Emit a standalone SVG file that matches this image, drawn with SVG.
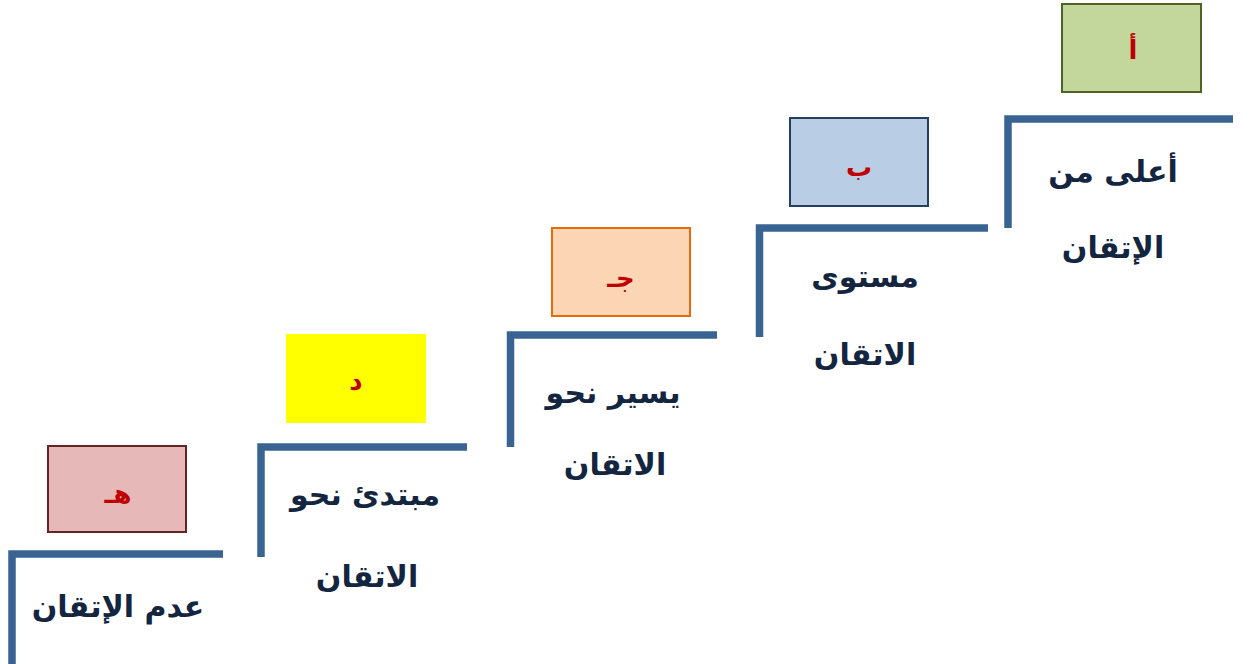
<svg xmlns="http://www.w3.org/2000/svg" width="1259" height="664" viewBox="0 0 1259 664">
<style>
.step{fill:none;stroke:#386393;stroke-width:7.5;stroke-linecap:butt}
.box{stroke-width:2}
.lbl{font-family:"DejaVu Sans",sans-serif;font-weight:bold;font-size:26px;fill:#C00000;text-anchor:middle;dominant-baseline:central}
.txt{font-family:"DejaVu Sans",sans-serif;font-weight:bold;font-size:30px;fill:#14253F;text-anchor:middle}
</style>
<rect width="1259" height="664" fill="#ffffff"/>
<g id="connectors">
<path class="step" d="M12,664 V554 H223"/>
<path class="step" d="M261,557 V447 H467"/>
<path class="step" d="M510.5,447 V335 H717"/>
<path class="step" d="M759.5,337 V228 H988"/>
<path class="step" d="M1008,228 V119 H1233"/>
</g>
<g id="node-e">
<rect class="box" x="48" y="446" width="138" height="86" fill="#E6B8B7" stroke="#632523"/>
<text class="lbl" x="118" y="494">هـ</text>
<text class="txt" x="118" y="617">عدم الإتقان</text>
</g>
<g id="node-d">
<rect x="286" y="334" width="140" height="89" fill="#FFFF00"/>
<text class="lbl" x="356" y="381">د</text>
<text class="txt" x="365" y="505">مبتدئ نحو</text>
<text class="txt" x="367" y="587">الاتقان</text>
</g>
<g id="node-c">
<rect class="box" x="552" y="228" width="138" height="88" fill="#FCD5B5" stroke="#E46C0A"/>
<text class="lbl" x="621" y="278">جـ</text>
<text class="txt" x="613" y="403">يسير نحو</text>
<text class="txt" x="615" y="475">الاتقان</text>
</g>
<g id="node-b">
<rect class="box" x="790" y="118" width="138" height="88" fill="#B9CDE5" stroke="#243F60"/>
<text class="lbl" x="859" y="167">ب</text>
<text class="txt" x="865" y="287">مستوى</text>
<text class="txt" x="865" y="365">الاتقان</text>
</g>
<g id="node-a">
<rect class="box" x="1062" y="4" width="139" height="88" fill="#C3D69B" stroke="#4F6228"/>
<text class="lbl" x="1133" y="50">أ</text>
<text class="txt" x="1113" y="182">أعلى من</text>
<text class="txt" x="1113" y="258">الإتقان</text>
</g>
</svg>
